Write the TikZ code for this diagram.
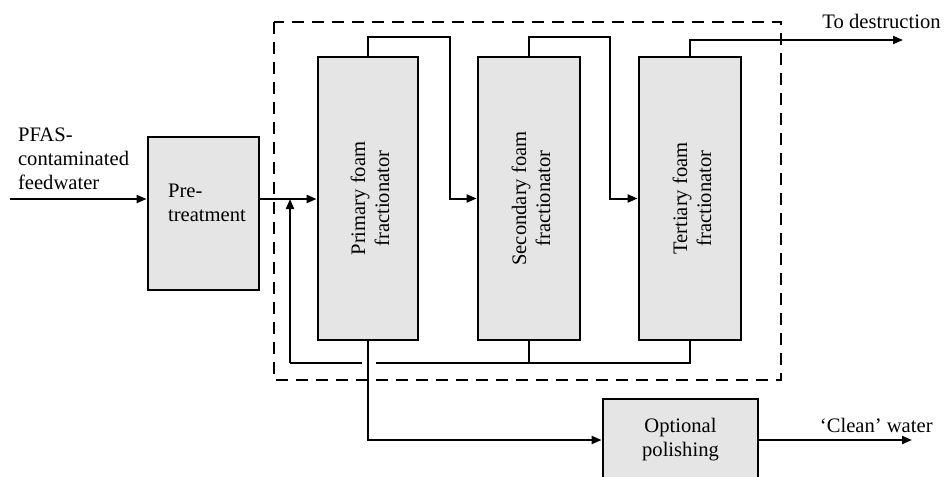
\documentclass[tikz,border=0pt]{standalone}
\usepackage{fontspec}
\setmainfont{Liberation Serif}
\usetikzlibrary{arrows.meta,calc}
\begin{document}
\begin{tikzpicture}[x=0.5pt,y=-0.5pt,
  every node/.style={font=\fontsize{10.3}{12}\selectfont},
  unit/.style={draw,line width=1.4pt,fill=black!10,inner sep=0pt},
  flow/.style={line width=1pt},
  arr/.style={flow,-{Triangle[length=5pt,width=4pt]}},
  boundary/.style={line width=1.4pt,dash pattern=on 6pt off 4pt}]
\useasboundingbox (0,0) rectangle (944,477);
\clip (0,0) rectangle (944,477);

% system boundary
\draw[boundary] (274,22) rectangle (781,380);

% process units
\node[unit,minimum width=55.5pt,minimum height=76.5pt] (pre) at (203.5,213.5) {};
\node[align=left] (pretxt) at (207,203) {Pre-\\treatment};
\node[unit,minimum width=50pt,minimum height=141.5pt] (prim) at (368,198.5) {};
\node[unit,minimum width=51pt,minimum height=141.5pt] (sec) at (529,198.5) {};
\node[unit,minimum width=51pt,minimum height=141.5pt] (ter) at (690,198.5) {};
\node[rotate=90,align=center] at ([xshift=1pt]prim.center) {Primary foam\\fractionator};
\node[rotate=90,align=center] at ([xshift=1pt]sec.center) {Secondary foam\\fractionator};
\node[rotate=90,align=center] at ([xshift=1pt]ter.center) {Tertiary foam\\fractionator};
\node[unit,minimum width=77.5pt,minimum height=41pt,align=center] (pol) at (680.5,440) {Optional\\polishing};

% labels
\node[align=left,anchor=north west] (feedtxt) at (11,121) {PFAS-\\contaminated\\feedwater};
\node[anchor=base east,inner sep=0pt] (desttxt) at (941,28) {To destruction};
\node[anchor=base east,inner sep=0pt] (cleantxt) at (933,432) {‘Clean’ water};

% connection points
\coordinate (feed) at (10,199);
\coordinate (t1) at (450,37);
\coordinate (t2) at (610,37);
\coordinate (dest) at (903,40);
\coordinate (r1) at (290,363);
\coordinate (clean) at (912,440);

% feed line
\draw[arr] (feed) -- (feed -| pre.west);
\draw[arr] (feed -| pre.east) -- (feed -| prim.west);

% foam transfer between stages
\draw[arr] (prim.north) |- (t1) |- (sec.west);
\draw[arr] (sec.north) |- (t2) |- (ter.west);
\draw[arr] (ter.north) |- (dest);

% recycle of drained liquid
\draw[flow] (ter.south) |- (r1);
\draw[arr] (r1) -- (r1 |- feed);
\draw[flow] (sec.south) -- (sec.south |- r1);
\draw[white,line width=2pt] ([xshift=-3pt]prim.south |- r1) -- ([xshift=4pt]prim.south |- r1);

% treated water out
\draw[arr] (prim.south) |- (pol.west);
\draw[arr] (pol.east) -- (clean);
\end{tikzpicture}
\end{document}
